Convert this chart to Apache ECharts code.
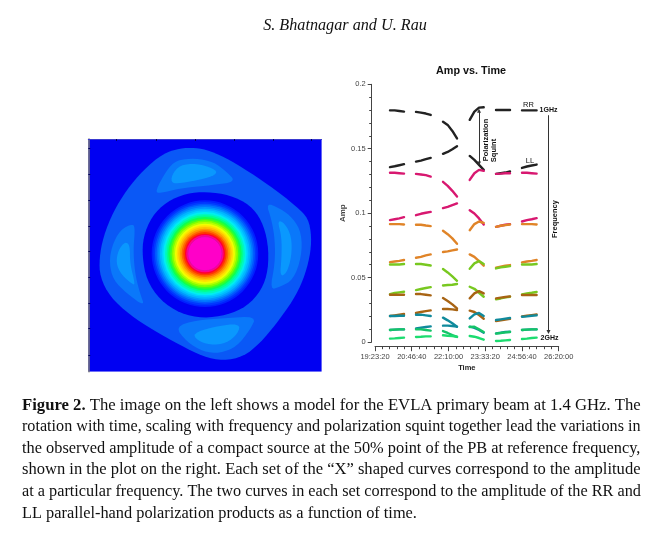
<!DOCTYPE html>
<html>
<head>
<meta charset="utf-8">
<script src="https://cdn.jsdelivr.net/npm/echarts@6/dist/echarts.min.js"></script>
<style>html,body{margin:0;padding:0;background:#fff}#c{width:662px;height:538px}</style>
</head>
<body>
<div id="c"></div>
<script>
// ---- amplitude plot data: time of each sample (seconds), six scans of four samples
const scanTimes = [
  [71840, 72475, 73110, 73750],
  [75380, 76050, 76720, 77380],
  [79055, 79690, 80325, 80960],
  [82690, 83325, 83960, 84595],
  [86270, 86905, 87540, 88175],
  [89805, 90470, 91130, 91795]
];
const black1 = [.1798,.1798,.1793,.1788, .1786,.178,.1773,.1762, .171,.1685,.1638,.158, .1724,.1788,.1819,.1822, .18,.18,.18,.18, .1798,.1798,.1798,.1798];
const black2 = [.1357,.1364,.1372,.138, .14,.1408,.1419,.1429, .146,.1475,.1496,.152, .1444,.1413,.1375,.1336, .1305,.131,.1315,.1323, .1351,.1362,.137,.1377];
const magenta1 = [.1313,.1313,.131,.1307, .1305,.13,.1295,.1284, .1243,.1212,.1173,.1129, .1258,.131,.1336,.1328, .1305,.1307,.131,.131, .1313,.1313,.131,.1307];
const magenta2 = [.0946,.0953,.096,.0969, .0984,.0995,.1003,.101, .1039,.1049,.1062,.1075, .1023,.0997,.0959,.0912, .0894,.0902,.091,.0915, .0935,.0946,.0953,.0961];
const orange1 = [.0915,.0915,.0915,.0912, .091,.091,.0904,.0899, .0863,.0837,.0804,.0762, .0868,.0915,.0935,.0925, .0894,.0902,.0907,.0912, .0915,.0915,.0915,.0912];
const orange2 = [.062,.0625,.063,.0636, .0654,.0661,.0672,.068, .0698,.0703,.0711,.0718, .068,.0661,.0628,.0592, .0576,.0584,.0592,.0597, .0618,.0625,.063,.0636];
const lime1 = [.0602,.0602,.0602,.0605, .0605,.0605,.06,.0594, .0566,.054,.0509,.0475, .0568,.061,.0628,.0605, .0571,.0579,.0584,.0589, .0602,.0602,.0602,.0605];
const lime2 = [.0372,.038,.0385,.039, .0403,.0411,.0419,.0426, .0439,.0442,.0444,.045, .0429,.0413,.0382,.0351, .0331,.0338,.0346,.0351, .037,.0377,.0382,.0388];
const brown1 = [.0367,.0367,.0367,.0367, .0372,.0372,.0367,.0362, .0341,.0318,.0292,.0261, .0339,.0377,.0395,.0377, .0339,.0344,.0349,.0354, .0365,.0365,.0365,.0365];
const brown2 = [.0202,.0207,.0212,.0217, .0225,.0233,.024,.0245, .0256,.0256,.0253,.0248, .0243,.0233,.0209,.0181, .0163,.0168,.0175,.018, .0199,.0204,.0209,.0214];
const teal1 = [.0202,.0202,.0204,.0204, .0212,.0212,.0207,.0202, .0189,.0168,.0145,.0119, .0183,.0214,.0225,.0202, .0171,.0176,.0181,.0186, .0196,.0199,.0204,.0207];
const teal2 = [.0093,.0096,.0098,.0098, .0106,.0111,.0116,.0121, .0127,.0127,.0124,.0119, .0119,.0109,.0093,.0072, .0067,.0072,.0078,.008, .0093,.0096,.0098,.0098];
const green1 = [.0093,.0096,.0098,.0098, .0098,.0098,.0093,.0088, .0085,.007,.0054,.0039, .0116,.0119,.0098,.0078, .0065,.007,.0075,.0078, .0093,.0096,.0098,.0098];
const green2 = [.0026,.0028,.0031,.0034, .0039,.0041,.0044,.0044, .0052,.0049,.0047,.0041, .0047,.0041,.0031,.0018, .0008,.001,.0013,.0016, .0023,.0026,.0031,.0034];
const curves = [black1, black2, magenta1, magenta2, orange1, orange2, lime1, lime2, brown1, brown2, teal1, teal2, green1, green2];
const curveColors = ['#222222','#222222','#d81870','#d81870','#e08428','#e08428','#78c820','#78c820','#a86414','#a86414','#108a9c','#108a9c','#14c468','#1cdc70'];
const timeTickLabels = ['19:23:20','20:46:40','22:10:00','23:33:20','24:56:40','26:20:00'];
const squintArrow = [[83954, .1795], [83954, .1385]];
const freqArrow = [[93412, .176], [93412, .0078]];

// ---- primary beam image: contours (image pixel units)
const beamCentre = [375, 371];
const imageFrame = [[25,27],[725,27],[725,725],[25,725]];
const outerContour = [[300,55],[345,53],[390,62],[450,90],[530,140],[600,190],[650,230],[685,265],[695,320],[690,380],[670,450],[640,510],[590,580],[540,640],[490,680],[430,692],[370,680],[300,645],[220,600],[150,555],[90,500],[60,440],[58,385],[70,320],[100,245],[140,180],[190,120],[250,70]];
const lobeTopMid = [[225,185],[260,120],[290,90],[345,85],[400,95],[440,125],[468,155],[400,165],[300,175],[240,190]];
const lobeRightMid = [[558,218],[600,235],[640,265],[665,310],[665,380],[640,450],[600,470],[570,480],[585,400],[585,330],[575,270]];
const lobeLeftMid = [[195,530],[140,490],[100,450],[88,400],[95,350],[120,300],[160,280],[165,300],[160,360],[165,430],[180,490]];
const lobeBottomMid = [[285,590],[350,570],[430,565],[530,558],[510,600],[470,650],[420,670],[370,665],[320,635]];
const lobeTopLight = [[275,135],[300,105],[350,100],[400,115],[413,130],[380,145],[300,160],[275,160]];
const lobeRightLight = [[592,270],[615,280],[635,320],[635,380],[620,430],[600,440],[605,380],[605,320]];
const lobeLeftLight = [[135,335],[150,345],[150,400],[165,460],[160,465],[125,435],[108,400],[115,360]];
const lobeBottomLight = [[340,610],[400,590],[480,580],[475,610],[440,640],[390,645],[350,630]];
const holeContour = [[380,185],[450,195],[510,225],[545,270],[565,340],[565,420],[545,480],[500,530],[440,555],[370,565],[300,550],[240,510],[200,450],[187,380],[190,320],[215,260],[260,215],[320,190]];
const ringRadii = [160,155,150,145,140,135,130,125,120,115,110,105,100,95,90,85,80,75,70,65,60,56];
const ringColors = ['#0020ff','#0038ff','#0058ff','#0078ff','#0098ff','#00b8ff','#00d0ff','#00eef0','#00f8c0','#00ff90','#10ff50','#40ff20','#80ff00','#b8ff00','#f0ff00','#ffe000','#ffc000','#ff9800','#ff6800','#ff3800','#ff0030','#ff0090'];
const coreRadius = 51;

const imageTicksX = [110,228,345,462,580,695];
const imageTicksY = [55,133,211,289,365,442,519,595,675];

// ---- text
const headerText = 'S. Bhatnagar and U. Rau';
const captionLines = [
  ['Figure 2.',' The image on the left shows a model for the EVLA primary beam at 1.4 GHz. The'],
  ['','rotation with time, scaling with frequency and polarization squint together lead the variations in'],
  ['','the observed amplitude of a compact source at the 50% point of the PB at reference frequency,'],
  ['','shown in the plot on the right. Each set of the \u201cX\u201d shaped curves correspond to the amplitude'],
  ['','at a particular frequency. The two curves in each set correspond to the amplitude of the RR and'],
  ['','LL parallel-hand polarization products as a function of time.']
];
const captionY = [406, 427, 449, 470, 492, 514];
const captionRightEdges = [641, 641, 641, 641, 641, 417];

// ---- build
function toLine(vals) {
  const out = []; let k = 0;
  scanTimes.forEach(s => {
    s.forEach(t => out.push([t, vals[k++]]));
    out.push([null, null]);
  });
  return out;
}

const lineSeries = curves.map((c, i) => ({
  type: 'line', xAxisIndex: 0, yAxisIndex: 0, data: toLine(c), showSymbol: false, symbol: 'none',
  connectNulls: false, silent: true, z: 3 + i * 0.01, animation: false,
  lineStyle: { color: curveColors[i], width: 2.4, cap: 'round', join: 'round' }
}));
const arrowSeries = [squintArrow, freqArrow].map((a, i) => ({
  type: 'line', xAxisIndex: 0, yAxisIndex: 0, data: [], silent: true, animation: false,
  markLine: {
    silent: true, animation: false, precision: 6, label: { show: false },
    symbol: i === 0 ? ['triangle', 'triangle'] : ['none', 'triangle'],
    symbolSize: 4,
    lineStyle: { color: '#333', width: 1, type: 'solid' },
    data: [[{ coord: a[0] }, { coord: a[1] }]]
  }
}));

const polys = [
  { pts: imageFrame, color: '#0000f2', sharp: true },
  { pts: outerContour, color: '#0a58f6' },
  { pts: lobeTopMid, color: '#0a78fa' },
  { pts: lobeRightMid, color: '#0a78fa' },
  { pts: lobeLeftMid, color: '#0a78fa' },
  { pts: lobeBottomMid, color: '#0a78fa' },
  { pts: lobeTopLight, color: '#0a98fe' },
  { pts: lobeRightLight, color: '#0a98fe' },
  { pts: lobeLeftLight, color: '#0a98fe' },
  { pts: lobeBottomLight, color: '#0a98fe' },
  { pts: holeContour, color: '#0000f2' }
];
// corner rounding of a hand-read contour, for drawing only
function roundCorners(pts) {
  let p = pts;
  for (let n = 0; n < 2; n++) {
    const o = [];
    p.forEach((a, i) => {
      const b = p[(i + 1) % p.length];
      o.push([a[0] * .75 + b[0] * .25, a[1] * .75 + b[1] * .25], [a[0] * .25 + b[0] * .75, a[1] * .25 + b[1] * .75]);
    });
    p = o;
  }
  return p;
}
const beamSeries = [{
  type: 'custom', xAxisIndex: 1, yAxisIndex: 1, silent: true, animation: false, z: 1, clip: true,
  data: polys.map(p => p.pts[0]),
  renderItem(params, api) {
    const p = polys[params.dataIndex];
    const pts = p.sharp ? p.pts : roundCorners(p.pts);
    return { type: 'polygon', shape: { points: pts.map(q => api.coord(q)) }, style: { fill: p.color } };
  }
}, {
  type: 'custom', xAxisIndex: 1, yAxisIndex: 1, silent: true, animation: false, z: 2, clip: true,
  data: ringRadii.map(r => [beamCentre[0], beamCentre[1], r]),
  renderItem(params, api) {
    const c = api.coord([api.value(0), api.value(1)]);
    const r = api.size([api.value(2), api.value(2)])[0];
    return { type: 'circle', shape: { cx: c[0], cy: c[1], r: r }, style: { fill: ringColors[params.dataIndex] } };
  }
}, {
  type: 'custom', xAxisIndex: 1, yAxisIndex: 1, silent: true, animation: false, z: 2.1, clip: true,
  data: [[beamCentre[0], beamCentre[1], coreRadius]],
  renderItem(params, api) {
    const c = api.coord([api.value(0), api.value(1)]);
    const r = api.size([api.value(2), api.value(2)])[0];
    return { type: 'circle', shape: { cx: c[0], cy: c[1], r: r }, style: { fill: '#ff00c8', stroke: '#c01898', lineWidth: 0.5 } };
  }
}];

// caption fitted to the column width
const mctx = document.createElement('canvas').getContext('2d');
const serif = '"Liberation Serif", serif';
function widthAt(size, line) {
  mctx.font = 'bold ' + size + 'px ' + serif;
  const a = line[0] ? mctx.measureText(line[0]).width : 0;
  mctx.font = size + 'px ' + serif;
  return a + mctx.measureText(line[1]).width;
}
const captionLeft = 22;
const captionGraphics = captionLines.map((line, i) => {
  const size = 100 * (captionRightEdges[i] - captionLeft) / widthAt(100, line);
  return {
    type: 'text', x: captionLeft, y: captionY[i], silent: true,
    style: line[0] ? {
      text: '{b|' + line[0] + '}{n|' + line[1] + '}', verticalAlign: 'middle', align: 'left',
      rich: { b: { font: 'bold ' + size + 'px ' + serif, fill: '#111' }, n: { font: size + 'px ' + serif, fill: '#111' } }
    } : {
      text: line[1], font: size + 'px ' + serif, fill: '#111', verticalAlign: 'middle', align: 'left'
    }
  };
});

function label(text, x, y, font, rotation, fill) {
  return { type: 'text', x, y, rotation: rotation || 0, silent: true,
    style: { text, font, fill: fill || '#111', align: 'center', verticalAlign: 'middle' } };
}
const sans = '"Liberation Sans", sans-serif';
const chart = echarts.init(document.getElementById('c'), null, { renderer: 'canvas' });
chart.setOption({
  animation: false,
  backgroundColor: '#fff',
  grid: [
    { left: 375, top: 84.3, width: 183.7, height: 257.7, containLabel: false },
    { left: 88.3, top: 139, width: 233.3, height: 232.7, containLabel: false }
  ],
  xAxis: [{
    type: 'value', gridIndex: 0, min: 69800, max: 94800, interval: 5000, offset: 4.7,
    name: 'Time', nameLocation: 'middle', nameGap: 17,
    nameTextStyle: { fontFamily: sans, fontWeight: 'bold', fontSize: 7.5, color: '#222' },
    splitLine: { show: false },
    axisLine: { show: true, onZero: false, lineStyle: { color: '#444', width: 1 } },
    axisTick: { show: true, length: 4.5, lineStyle: { color: '#444' } },
    minorTick: { show: true, splitNumber: 5, length: 2.5, lineStyle: { color: '#444' } },
    axisLabel: { margin: 6, fontFamily: sans, fontSize: 7.5, color: '#444', showMinLabel: true, showMaxLabel: true, hideOverlap: false, formatter: v => timeTickLabels[Math.round((v - 69800) / 5000)] }
  }, {
    type: 'value', gridIndex: 1, min: 25, max: 725, position: 'top', z: 5,
    splitLine: { show: false }, axisLabel: { show: false },
    axisLine: { show: true, onZero: false, lineStyle: { color: '#3a3ad0', width: 1 } },
    axisTick: { show: true, inside: true, length: 2, customValues: imageTicksX, lineStyle: { color: '#000060' } }
  }],
  yAxis: [{
    type: 'value', gridIndex: 0, min: 0, max: 0.2, interval: 0.05, offset: 3.3,
    name: 'Amp', nameLocation: 'middle', nameGap: 17, nameRotate: 90,
    nameTextStyle: { fontFamily: sans, fontWeight: 'bold', fontSize: 8, color: '#444' },
    splitLine: { show: false },
    axisLine: { show: true, onZero: false, lineStyle: { color: '#444', width: 1 } },
    axisTick: { show: true, length: 4, lineStyle: { color: '#444' } },
    minorTick: { show: true, splitNumber: 5, length: 2.5, lineStyle: { color: '#444' } },
    axisLabel: { margin: 6, fontFamily: sans, fontSize: 7.5, color: '#444' }
  }, {
    type: 'value', gridIndex: 1, min: 27, max: 725, inverse: true, position: 'left', z: 5,
    splitLine: { show: false }, axisLabel: { show: false },
    axisLine: { show: true, onZero: false, lineStyle: { color: '#777', width: 1.5 } },
    axisTick: { show: true, inside: true, length: 2, customValues: imageTicksY, lineStyle: { color: '#000060' } }
  }],
  series: [...beamSeries, ...lineSeries, ...arrowSeries],
  graphic: { elements: [
    label(headerText, 345, 26, 'italic 16.2px ' + serif, 0, '#111'),
    label('Amp vs. Time', 471, 71, 'bold 10.8px ' + sans),
    label('RR', 528.5, 104.5, '7.5px ' + sans),
    label('1GHz', 548.5, 110, 'bold 7px ' + sans),
    label('LL', 530, 160.5, '7.5px ' + sans),
    label('Polarization', 485.7, 140, 'bold 7.5px ' + sans, Math.PI / 2),
    label('Squint', 493.7, 150.5, 'bold 7.5px ' + sans, Math.PI / 2),
    label('Frequency', 555, 219, 'bold 7.5px ' + sans, Math.PI / 2),
    label('2GHz', 549.5, 338.5, 'bold 7px ' + sans),
    ...captionGraphics
  ] }
});
</script>
</body>
</html>
